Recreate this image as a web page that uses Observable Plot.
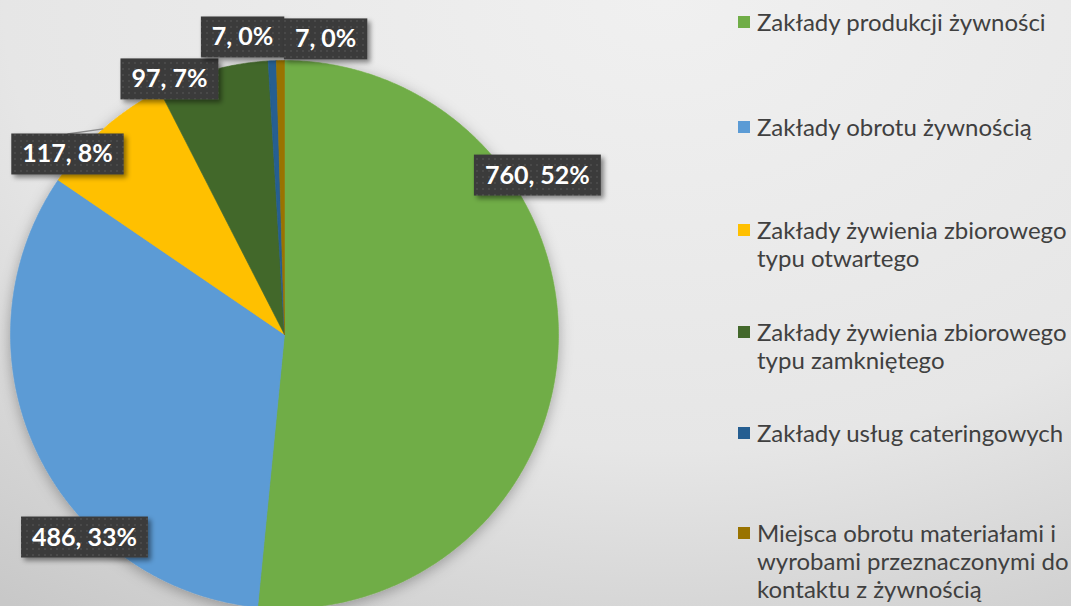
<!DOCTYPE html>
<html><head><meta charset="utf-8">
<script src="https://cdn.jsdelivr.net/npm/d3@7"></script>
<script src="https://cdn.jsdelivr.net/npm/@observablehq/plot@0.6"></script>
<style>
html,body{margin:0;padding:0;width:1071px;height:606px;overflow:hidden;}
body{position:relative;font-family:Lato,"Noto Sans",sans-serif;
background:radial-gradient(1100px 750px at 62% 0%, #f0f0f0 0%, #e6e6e6 60%, #c8c8c8 100%);}
#chart{position:absolute;left:0;top:0;}
#legend{position:absolute;left:738px;top:8px;}
.item{position:absolute;left:0;display:flex;align-items:flex-start;}
.sw{width:12px;height:12px;margin-top:8px;margin-right:7px;flex:none;}
.txt{font-size:24px;line-height:28px;color:#404040;width:318px;}
</style></head>
<body><div id="chart"></div><div id="legend"></div>
<script>
const categories = [
  "Zakłady produkcji żywności",
  "Zakłady obrotu żywnością",
  "Zakłady żywienia zbiorowego typu otwartego",
  "Zakłady żywienia zbiorowego typu zamkniętego",
  "Zakłady usług cateringowych",
  "Miejsca obrotu materiałami i wyrobami przeznaczonymi do kontaktu z żywnością"
];
const values = [760, 486, 117, 97, 7, 7];
const colors = ["#70AD47", "#5B9BD5", "#FFC000", "#43682B", "#255E91", "#997300"];

// label placement (in pie-radius units, relative to pie centre)
const labelX = [0.923, -0.730, -0.792, -0.420, -0.153, 0.150];
const labelY = [0.580, -0.741, 0.657, 0.931, 1.084, 1.077];
const showLeader = [false, false, true, false, false, false];

const total = d3.sum(values);
const arcs = d3.pie().sort(null).value(d => d)(values);

const slicePts = [];
arcs.forEach((a, i) => {
  const n = Math.max(2, Math.ceil((a.endAngle - a.startAngle) / (Math.PI / 360)));
  slicePts.push({cat: categories[i], x: 0, y: 0});
  for (let k = 0; k <= n; k++) {
    const t = a.startAngle + (a.endAngle - a.startAngle) * k / n;
    slicePts.push({cat: categories[i], x: Math.sin(t), y: Math.cos(t)});
  }
  slicePts.push({cat: categories[i], x: 0, y: 0});
});

const labels = values.map((v, i) => ({
  cat: categories[i], x: labelX[i], y: labelY[i],
  text: `${v}, ${Math.round(v / total * 100)}%`
}));

const xRange = [10, 558], yRange = [608, 60];
const rPx = (xRange[1] - xRange[0]) / 2;
const boxH = 41;

const leaders = arcs.map((a, i) => {
  const m = (a.startAngle + a.endAngle) / 2;
  return {show: showLeader[i], x1: labelX[i], y1: labelY[i] + (boxH / 2) / rPx, x2: Math.sin(m), y2: Math.cos(m)};
}).filter(d => d.show);

const plot = Plot.plot({
  width: 720, height: 606, margin: 0,
  style: {background: "transparent", overflow: "visible"},
  x: {domain: [-1, 1], range: xRange, axis: null},
  y: {domain: [-1, 1], range: yRange, axis: null},
  color: {domain: categories, range: colors},
  marks: [
    Plot.line(slicePts, {x: "x", y: "y", z: "cat", fill: "cat", stroke: "cat", strokeWidth: 0.6, curve: "linear"}),
    Plot.link(leaders, {x1: "x1", y1: "y1", x2: "x2", y2: "y2", stroke: "#8c8c8c", strokeWidth: 1.3}),
    Plot.text(labels, {x: "x", y: "y", text: "text", fill: "white", fontSize: 25, fontWeight: "bold", fontFamily: "Lato"})
  ]
});
document.getElementById("chart").appendChild(plot);

// defs: pattern + shadows
const ns = "http://www.w3.org/2000/svg";
const svg = plot;
const defs = document.createElementNS(ns, "defs");
defs.innerHTML = `
<pattern id="dots" width="6" height="6" patternUnits="userSpaceOnUse">
  <rect width="6" height="6" fill="#3b3b3b"/>
  <circle cx="3" cy="3" r="1" fill="#4e4e4e"/>
</pattern>
<filter id="boxShadow" x="-20%" y="-30%" width="150%" height="180%">
  <feDropShadow dx="3" dy="3" stdDeviation="2.5" flood-color="#000" flood-opacity="0.45"/>
</filter>
<filter id="pieShadow" x="-20%" y="-20%" width="140%" height="140%">
  <feDropShadow dx="0" dy="3" stdDeviation="7" flood-color="#000" flood-opacity="0.3"/>
</filter>`;
svg.insertBefore(defs, svg.firstChild);

const lineG = svg.querySelector('g[aria-label="line"]');
if (lineG) lineG.setAttribute("filter", "url(#pieShadow)");

const textG = svg.querySelector('g[aria-label="text"]');
const boxesG = document.createElementNS(ns, "g");
svg.insertBefore(boxesG, textG);
const svgRect = svg.getBoundingClientRect();
const yS = plot.scale("y");
textG.querySelectorAll("text").forEach((t, i) => {
  const b = t.getBoundingClientRect();
  const cx = b.left - svgRect.left + b.width / 2;
  const cy = yS.apply(labels[i].y);
  const w = b.width + 22;
  const r = document.createElementNS(ns, "rect");
  r.setAttribute("x", cx - w / 2);
  r.setAttribute("y", cy - boxH / 2);
  r.setAttribute("width", w);
  r.setAttribute("height", boxH);
  r.setAttribute("fill", "url(#dots)");
  r.setAttribute("filter", "url(#boxShadow)");
  boxesG.appendChild(r);
});

// legend
const legendTop = [0, 105, 208, 310, 411, 511];
const legend = document.getElementById("legend");
categories.forEach((c, i) => {
  const it = document.createElement("div");
  it.className = "item";
  it.style.top = legendTop[i] + "px";
  it.innerHTML = `<div class="sw" style="background:${colors[i]}"></div><div class="txt">${c}</div>`;
  legend.appendChild(it);
});
</script>
</body></html>
